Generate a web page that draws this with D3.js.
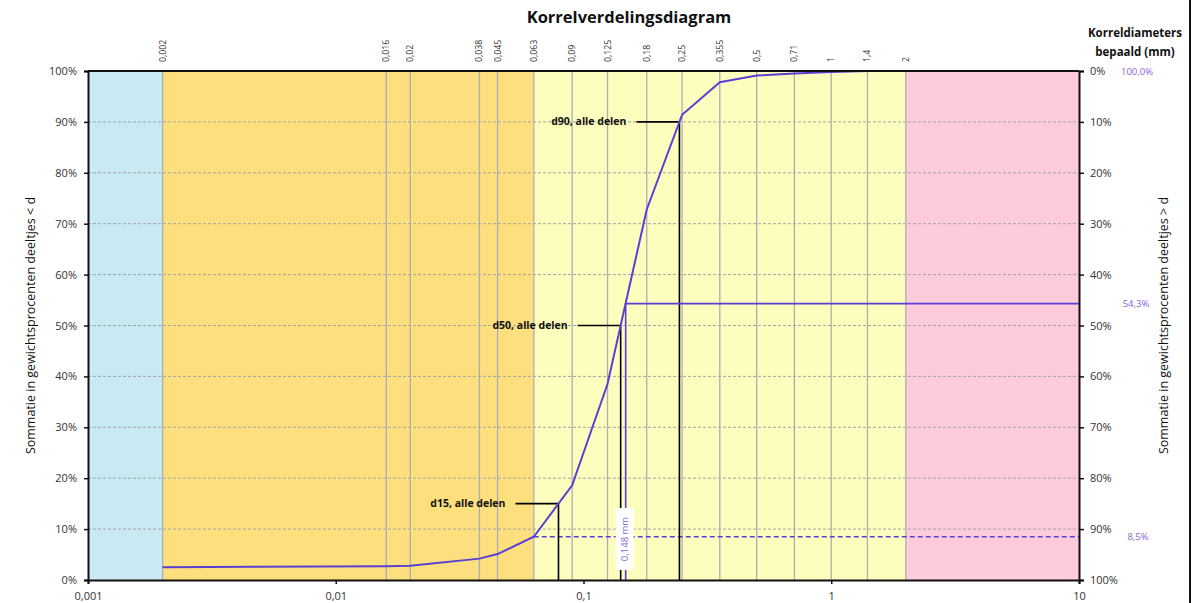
<!DOCTYPE html>
<html>
<head>
<meta charset="utf-8">
<script src="https://cdn.jsdelivr.net/npm/d3@7/dist/d3.min.js"></script>
<style>
  html, body { margin: 0; padding: 0; background: #fff; }
  svg { display: block; font-family: "Open Sans", "Liberation Sans", sans-serif; }
</style>
</head>
<body>
<svg id="chart" width="1202" height="603"></svg>
<script>
// Sieve sizes (mm) and their printed labels
const sieveSizes  = [0.002, 0.016, 0.02, 0.038, 0.045, 0.063, 0.09, 0.125, 0.18, 0.25, 0.355, 0.5, 0.71, 1, 1.4, 2];
const sieveLabels = ["0,002", "0,016", "0,02", "0,038", "0,045", "0,063", "0,09", "0,125", "0,18", "0,25", "0,355", "0,5", "0,71", "1", "1,4", "2"];
// Cumulative percentage passing (< d) per sieve size
const passing     = [2.5, 2.7, 2.8, 4.2, 5.1, 8.5, 18.6, 38.5, 72.8, 91.4, 97.8, 99.1, 99.5, 99.8, 100, 100];

// Fraction boundaries (mm): clay | silt | sand | gravel
const bandEdges = [0.001, 0.002, 0.063, 2, 10];

// Bottom axis decades and their labels
const decadeTicks  = [0.001, 0.01, 0.1, 1, 10];
const decadeLabels = ["0,001", "0,01", "0,1", "1", "10"];

// Percent ticks
const pctTicks = [0, 10, 20, 30, 40, 50, 60, 70, 80, 90, 100];

// Characteristic diameters to mark
const dLevels = [15, 50, 90];
const dNames  = ["d15, alle delen", "d50, alle delen", "d90, alle delen"];

// Highlighted reading: diameter and its passing value
const markDiameter = 0.148;
const markPercent  = 54.3;
// Passing at the sand boundary (0,063 mm) and at the top sieve
const sandPercent  = 8.5;
const topPercent   = 100.0;

// ---- styling ----
const bandColors = ["#c9e9f3", "#fddf7e", "#fdfdbe", "#fdcbdc"];
const curveColor = "#5a3fd4";
const noteColor  = "#8a5fe0";

const svg = d3.select("#chart");
const pL = 88, pR = 1079, pT = 71, pB = 580;

const x = d3.scaleLog().domain([0.001, 10]).range([pL, pR]);
const y = d3.scaleLinear().domain([0, 100]).range([pB, pT]);
const yRev = d3.scaleLinear().domain([0, 100]).range([pT, pB]);

const fmt = v => v.toFixed(1).replace(".", ",");

// Background fraction bands
svg.append("g").selectAll("rect")
  .data(d3.range(bandEdges.length - 1))
  .join("rect")
  .attr("x", i => x(bandEdges[i]))
  .attr("y", pT)
  .attr("width", i => x(bandEdges[i + 1]) - x(bandEdges[i]))
  .attr("height", pB - pT)
  .attr("fill", i => bandColors[i]);

// Horizontal dashed gridlines
svg.append("g").selectAll("line")
  .data(pctTicks.filter(p => p > 0 && p < 100))
  .join("line")
  .attr("x1", pL).attr("x2", pR)
  .attr("y1", d => y(d)).attr("y2", d => y(d))
  .attr("stroke", "#a3a3a8").attr("stroke-width", 1)
  .attr("stroke-dasharray", "3,2");

// Vertical sieve gridlines
svg.append("g").selectAll("line")
  .data(sieveSizes)
  .join("line")
  .attr("x1", d => x(d)).attr("x2", d => x(d))
  .attr("y1", pT).attr("y2", pB)
  .attr("stroke", "#adadb4").attr("stroke-width", 1.3);

// Top sieve labels (rotated)
svg.append("g").selectAll("text")
  .data(sieveSizes)
  .join("text")
  .attr("transform", d => `translate(${x(d) + 3},62) rotate(-90)`)
  .attr("text-anchor", "start")
  .attr("font-size", 8.8)
  .attr("fill", "#333")
  .text((d, i) => sieveLabels[i]);

// log-interpolate diameter at a given passing level
function diameterAt(p) {
  for (let i = 0; i < passing.length - 1; i++) {
    const a = passing[i], b = passing[i + 1];
    if (p >= a && p <= b && b > a) {
      const t = (p - a) / (b - a);
      const la = Math.log10(sieveSizes[i]), lb = Math.log10(sieveSizes[i + 1]);
      return Math.pow(10, la + t * (lb - la));
    }
  }
  return null;
}

// Sand-boundary dashed reading line
svg.append("line")
  .attr("x1", x(0.063)).attr("x2", pR)
  .attr("y1", y(sandPercent)).attr("y2", y(sandPercent))
  .attr("stroke", curveColor).attr("stroke-width", 1.4)
  .attr("stroke-dasharray", "5,3");

// Characteristic diameter markers
const dg = svg.append("g");
dLevels.forEach((p, i) => {
  const d = diameterAt(p);
  const xd = x(d), yd = y(p);
  dg.append("line")
    .attr("x1", xd).attr("x2", xd).attr("y1", yd).attr("y2", pB)
    .attr("stroke", "#000").attr("stroke-width", 1.6);
  dg.append("line")
    .attr("x1", xd - 43).attr("x2", xd).attr("y1", yd).attr("y2", yd)
    .attr("stroke", "#000").attr("stroke-width", 1.6);
  dg.append("text")
    .attr("x", xd - 53).attr("y", yd + 3.5)
    .attr("text-anchor", "end")
    .attr("font-size", 10.5).attr("font-weight", "bold")
    .attr("fill", "#111")
    .text(dNames[i]);
});

// Highlighted reading lines
svg.append("line")
  .attr("x1", x(markDiameter)).attr("x2", x(markDiameter))
  .attr("y1", y(markPercent)).attr("y2", pB)
  .attr("stroke", curveColor).attr("stroke-width", 1.6);
svg.append("line")
  .attr("x1", x(markDiameter)).attr("x2", pR)
  .attr("y1", y(markPercent)).attr("y2", y(markPercent))
  .attr("stroke", curveColor).attr("stroke-width", 1.6);

// Diameter label box on the reading line
const lx = x(markDiameter) - 1, ly = 539;
svg.append("rect")
  .attr("x", lx - 9).attr("y", ly - 31)
  .attr("width", 18).attr("height", 62)
  .attr("fill", "#fff");
svg.append("text")
  .attr("transform", `translate(${lx + 3.5},${ly}) rotate(-90)`)
  .attr("text-anchor", "middle")
  .attr("font-size", 9.5)
  .attr("fill", noteColor)
  .text(String(markDiameter).replace(".", ",") + " mm");

// Grading curve
svg.append("path")
  .datum(sieveSizes.map((s, i) => [s, passing[i]]))
  .attr("fill", "none")
  .attr("stroke", curveColor)
  .attr("stroke-width", 2)
  .attr("d", d3.line().x(d => x(d[0])).y(d => y(d[1])));

// Top border
svg.append("line").attr("x1", pL).attr("x2", pR).attr("y1", pT).attr("y2", pT)
  .attr("stroke", "#111").attr("stroke-width", 2);

// Left axis
const gl = svg.append("g").attr("transform", `translate(${pL},0)`)
  .call(d3.axisLeft(y).tickValues(pctTicks).tickSize(4).tickFormat(d => d + "%"));
// Right axis (reversed)
const gr = svg.append("g").attr("transform", `translate(${pR},0)`)
  .call(d3.axisRight(yRev).tickValues(pctTicks).tickSize(5).tickFormat(d => d + "%"));
// Bottom axis
const gb = svg.append("g").attr("transform", `translate(0,${pB})`)
  .call(d3.axisBottom(x).tickValues(decadeTicks).tickSize(4).tickFormat((d, i) => decadeLabels[i]));

[gl, gr, gb].forEach(g => {
  g.select(".domain").attr("stroke", "#111").attr("stroke-width", 2);
  g.selectAll(".tick line").attr("stroke", "#111").attr("stroke-width", 1.5);
  g.selectAll(".tick text").attr("font-size", 11).attr("fill", "#333")
    .attr("font-family", "'Open Sans', 'Liberation Sans', sans-serif");
});
gl.selectAll(".tick text").attr("x", -11);
gr.selectAll(".tick text").attr("x", 11);
gb.selectAll(".tick text").attr("y", 12);

// Right-hand value notes
svg.append("text").attr("x", 1136).attr("y", y(markPercent) + 3.5)
  .attr("text-anchor", "middle").attr("font-size", 9.5).attr("fill", noteColor)
  .text(fmt(markPercent) + "%");
svg.append("text").attr("x", 1138).attr("y", y(sandPercent) + 3.5)
  .attr("text-anchor", "middle").attr("font-size", 9.5).attr("fill", noteColor)
  .text(fmt(sandPercent) + "%");
svg.append("text").attr("x", 1137).attr("y", pT + 4)
  .attr("text-anchor", "middle").attr("font-size", 9.5).attr("fill", noteColor)
  .text(fmt(topPercent) + "%");

// Title
svg.append("text").attr("x", 629).attr("y", 23)
  .attr("text-anchor", "middle").attr("font-size", 16.5).attr("font-weight", "bold")
  .attr("fill", "#111")
  .text("Korrelverdelingsdiagram");

// Right header
svg.append("text").attr("x", 1135).attr("y", 37)
  .attr("text-anchor", "middle").attr("font-size", 11.5).attr("font-weight", "bold")
  .attr("fill", "#111").text("Korreldiameters");
svg.append("text").attr("x", 1135).attr("y", 56)
  .attr("text-anchor", "middle").attr("font-size", 11.5).attr("font-weight", "bold")
  .attr("fill", "#111").text("bepaald (mm)");

// Axis titles
svg.append("text")
  .attr("transform", `translate(35,${(pT + pB) / 2}) rotate(-90)`)
  .attr("text-anchor", "middle").attr("font-size", 12.5)
  .attr("fill", "#111")
  .text("Sommatie in gewichtsprocenten deeltjes < d");
svg.append("text")
  .attr("transform", `translate(1168,${(pT + pB) / 2}) rotate(-90)`)
  .attr("text-anchor", "middle").attr("font-size", 12.5)
  .attr("fill", "#111")
  .text("Sommatie in gewichtsprocenten deeltjes > d");

// Outer chart border (right edge)
svg.append("line").attr("x1", 1190).attr("x2", 1190).attr("y1", 0).attr("y2", 603)
  .attr("stroke", "#111").attr("stroke-width", 2);
</script>
</body>
</html>
